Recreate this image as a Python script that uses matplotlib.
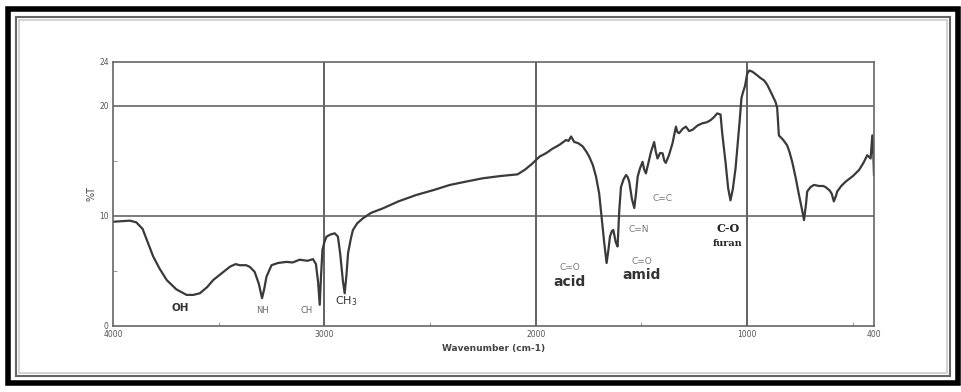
import numpy as np
import matplotlib.pyplot as plt
from matplotlib.patches import Rectangle

# IR spectrum values (wavenumber cm-1, %T)
wavenumber = [4000, 3960, 3920, 3890, 3860, 3830, 3810, 3780, 3746, 3700,
              3652, 3620, 3589, 3555, 3526, 3490, 3447, 3420, 3400, 3370,
              3353, 3330, 3310, 3295, 3285, 3274, 3250, 3220, 3180, 3150,
              3117, 3080, 3054, 3040, 3030, 3022, 3016, 3009, 3000, 2990,
              2970, 2951, 2936, 2925, 2912, 2904, 2896, 2888, 2875, 2865,
              2845, 2818, 2780, 2723, 2650, 2566, 2480, 2408, 2330, 2251,
              2170, 2086, 2050, 2015, 1983, 1950, 1920, 1889, 1857, 1845,
              1833, 1818, 1800, 1778, 1760, 1747, 1730, 1715, 1700, 1692,
              1676, 1665, 1657, 1649, 1640, 1633, 1622, 1613, 1605, 1597,
              1585, 1573, 1565, 1558, 1545, 1534, 1526, 1518, 1507, 1495,
              1487, 1479, 1465, 1455, 1440, 1432, 1424, 1412, 1400, 1392,
              1385, 1370, 1353, 1337, 1330, 1322, 1305, 1290, 1275, 1259,
              1235, 1212, 1190, 1172, 1155, 1142, 1126, 1118, 1102, 1090,
              1079, 1068, 1055, 1045, 1036, 1027, 1020, 1010, 1000, 990,
              976, 955, 936, 920, 905, 882, 865, 858, 850, 830,
              811, 800, 787, 770, 755, 740, 731, 722, 716, 700,
              684, 660, 640, 629, 610, 600, 590, 580, 574, 555,
              534, 500, 471, 450, 432, 416, 408, 403, 400]
transmittance = [9.45, 9.5, 9.55, 9.4, 8.8, 7.3, 6.3, 5.2, 4.15, 3.3,
                 2.8, 2.8, 2.95, 3.5, 4.15, 4.7, 5.36, 5.6, 5.5, 5.5,
                 5.35, 4.9, 3.8, 2.5, 3.3, 4.45, 5.5, 5.7, 5.8, 5.75,
                 6.0, 5.9, 6.05, 5.6, 4.0, 1.9, 4.5, 6.9, 7.6, 8.1,
                 8.3, 8.4, 8.1, 6.5, 4.0, 2.95, 4.5, 6.6, 7.9, 8.7,
                 9.3, 9.76, 10.25, 10.67, 11.3, 11.88, 12.35, 12.79, 13.1, 13.4,
                 13.6, 13.76, 14.2, 14.76, 15.36, 15.7, 16.1, 16.43, 16.88, 16.8,
                 17.2, 16.7, 16.6, 16.3, 15.8, 15.36, 14.6, 13.55, 12.0, 10.5,
                 7.5, 5.7, 6.8, 8.1, 8.6, 8.7, 7.6, 7.2, 10.5, 12.6,
                 13.3, 13.7, 13.5, 13.1, 11.5, 10.7, 12.0, 13.55, 14.3, 14.9,
                 14.2, 13.85, 15.0, 15.8, 16.7, 15.8, 15.2, 15.7, 15.67, 15.0,
                 14.8, 15.5, 16.6, 18.1, 17.6, 17.5, 17.9, 18.1, 17.7, 17.8,
                 18.2, 18.4, 18.5, 18.7, 19.0, 19.3, 19.2, 17.5, 14.8, 12.5,
                 11.4, 12.4, 14.3, 16.5, 18.5, 20.7, 21.2, 21.8, 22.9, 23.2,
                 23.1, 22.8, 22.5, 22.3, 21.9, 21.0, 20.3, 19.8, 17.3, 16.9,
                 16.4, 15.8, 14.9, 13.4, 11.9, 10.5, 9.6, 11.0, 12.2, 12.6,
                 12.8, 12.7, 12.7, 12.6, 12.3, 12.0, 11.3, 11.8, 12.2, 12.7,
                 13.1, 13.6, 14.15, 14.8, 15.5, 15.2, 17.3, 15.5, 13.7]

xticks = [4000, 3000, 2000, 1000, 400]
yticks = [0, 10, 20, 24]

fig = plt.figure(figsize=(9.62, 3.92), dpi=100)
fig.patch.set_facecolor('white')

# picture frame around the plot
fig.patches.append(Rectangle((8 / 962, 9 / 392), 950 / 962, 374 / 392,
                             transform=fig.transFigure, fill=False,
                             edgecolor='black', linewidth=4))
fig.patches.append(Rectangle((16 / 962, 16 / 392), 934 / 962, 359 / 392,
                             transform=fig.transFigure, fill=False,
                             edgecolor='#666666', linewidth=1.5))
fig.patches.append(Rectangle((19 / 962, 19 / 392), 928 / 962, 353 / 392,
                             transform=fig.transFigure, fill=False,
                             edgecolor='#cccccc', linewidth=1.2))

ax = fig.add_axes([113 / 962, 66.3 / 392, 761 / 962, 264 / 392])
ax.plot(wavenumber, transmittance, color='#3a3a3a', linewidth=1.6)

ax.set_xlim(4000, 400)
ax.set_ylim(0, 24)
ax.set_xticks(xticks)
ax.set_yticks(yticks)
ax.set_xticks([3500, 2500, 1500, 500], minor=True)
ax.set_yticks([5, 15], minor=True)
ax.tick_params(which='major', length=0, labelsize=5.5, labelcolor='#555555', pad=3)
ax.tick_params(which='minor', direction='in', length=3, color='#888888')
for v in [3000, 2000, 1000]:
    ax.axvline(v, color='#555555', linewidth=1.3, zorder=0)
for v in [10, 20]:
    ax.axhline(v, color='#666666', linewidth=1.2, zorder=0)
for s in ax.spines.values():
    s.set_color('#666666')
    s.set_linewidth(1.2)

ax.set_xlabel('Wavenumber (cm-1)', fontsize=6.5, fontweight='bold', color='#444444', labelpad=4)
ax.set_ylabel('%T', fontsize=7, color='#444444', labelpad=2)

# band labels
ax.text(3680, 1.6, 'OH', fontsize=7.5, fontweight='bold', color='#333333', ha='center', va='center')
ax.text(3295, 1.4, 'NH', fontsize=6, color='#666666', ha='center', va='center')
ax.text(3085, 1.4, 'CH', fontsize=6, color='#666666', ha='center', va='center')
ax.text(2895, 2.2, 'CH$_3$', fontsize=8, color='#333333', ha='center', va='center')
ax.text(1840, 5.3, 'C=O', fontsize=6.5, color='#777777', ha='center', va='center')
ax.text(1840, 4.0, 'acid', fontsize=10, fontweight='bold', color='#333333', ha='center', va='center')
ax.text(1500, 5.8, 'C=O', fontsize=6.5, color='#777777', ha='center', va='center')
ax.text(1500, 4.6, 'amid', fontsize=10, fontweight='bold', color='#333333', ha='center', va='center')
ax.text(1560, 8.7, 'C=N', fontsize=6.5, color='#777777', ha='left', va='center')
ax.text(1450, 11.6, 'C=C', fontsize=6.5, color='#777777', ha='left', va='center')
ax.text(1092, 8.8, 'C-O', fontsize=8, fontweight='bold', family='serif', color='#222222', ha='center', va='center')
ax.text(1092, 7.5, 'furan', fontsize=7, fontweight='bold', family='serif', color='#222222', ha='center', va='center')

plt.savefig('out.png', dpi=100)
